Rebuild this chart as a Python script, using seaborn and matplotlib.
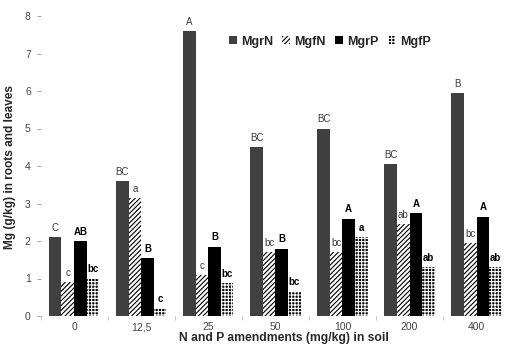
import matplotlib
matplotlib.use("Agg")
import matplotlib.pyplot as plt
import seaborn as sns
import pandas as pd

# Mg content (g/kg) in roots and leaves under N and P amendments
doses = ["0", "12,5", "25", "50", "100", "200", "400"]
series = ["MgrN", "MgfN", "MgrP", "MgfP"]

mgr_n = [2.1, 3.6, 7.6, 4.5, 5.0, 4.05, 5.95]
mgf_n = [0.9, 3.15, 1.1, 1.7, 1.7, 2.45, 1.95]
mgr_p = [2.0, 1.55, 1.85, 1.8, 2.6, 2.75, 2.65]
mgf_p = [1.0, 0.22, 0.88, 0.65, 2.1, 1.3, 1.3]

# Significance letters above each bar
let_mgr_n = ["C", "BC", "A", "BC", "BC", "BC", "B"]
let_mgf_n = ["c", "a", "c", "bc", "bc", "ab", "bc"]
let_mgr_p = ["AB", "B", "B", "B", "A", "A", "A"]
let_mgf_p = ["bc", "c", "bc", "bc", "a", "ab", "ab"]

values = {"MgrN": mgr_n, "MgfN": mgf_n, "MgrP": mgr_p, "MgfP": mgf_p}
letters = {"MgrN": let_mgr_n, "MgfN": let_mgf_n, "MgrP": let_mgr_p, "MgfP": let_mgf_p}

df = pd.DataFrame(
    [(d, s, values[s][i]) for s in series for i, d in enumerate(doses)],
    columns=["dose", "series", "mg"],
)

sns.set_theme(style="white")
plt.rcParams["font.family"] = ["Liberation Sans", "DejaVu Sans"]
plt.rcParams["hatch.linewidth"] = 0.8

fig = plt.figure(figsize=(5.05, 3.47), dpi=100)
ax = fig.add_axes([40.5 / 505, 31 / 347, 465 / 505, 300 / 347])

sns.barplot(
    data=df, x="dose", y="mg", hue="series",
    order=doses, hue_order=series,
    width=0.75, gap=0, dodge=True, legend=False,
    palette=["#404040", "white", "black", "black"],
    ax=ax,
)

# Fill styles per series
styles = {
    "MgrN": dict(face="#404040", edge="#404040", hatch=None),
    "MgfN": dict(face="white", edge="black", hatch="///////"),
    "MgrP": dict(face="black", edge="black", hatch=None),
    "MgfP": dict(face="black", edge="white", hatch="+++++"),
}
for cont, s in zip(ax.containers, series):
    st = styles[s]
    for p in cont.patches:
        p.set_facecolor(st["face"])
        p.set_edgecolor(st["edge"])
        p.set_linewidth(0)
        if st["hatch"]:
            p.set_hatch(st["hatch"])

# Letters above bars
for cont, s in zip(ax.containers, series):
    bold = s in ("MgrP", "MgfP")
    ax.bar_label(
        cont, labels=letters[s], padding=3,
        fontsize=7, color="black" if bold else "#3a3a3a",
        fontweight="bold" if bold else "normal",
    )

ax.set_ylim(0, 8)
ax.set_xlim(-0.5, 6.43)
ax.set_yticks(range(0, 9))
ax.set_xticks(range(len(doses)))
ax.set_xticklabels(doses)
ax.set_xticks([i + 0.5 for i in range(-1, 6)], minor=True)
ax.tick_params(axis="x", which="major", length=0, pad=4.5, labelsize=7.5, labelcolor="#444444")
ax.tick_params(axis="x", which="minor", length=3, width=0.6, color="#bbbbbb", bottom=True, direction="out")
ax.tick_params(axis="y", length=3, width=0.6, color="#999999", left=True, direction="out",
               pad=4, labelsize=7.5, labelcolor="#444444")
for sp in ax.spines.values():
    sp.set_visible(False)
ax.set_xlabel("")
ax.set_ylabel("")

fig.text(10 / 505, 0.519, "Mg (g/kg) in roots and leaves", rotation=90,
         ha="center", va="center", fontsize=8.6, fontweight="bold")
fig.text(284 / 505, 9 / 347, "N and P amendments (mg/kg) in soil",
         ha="center", va="center", fontsize=8.7, fontweight="bold")

ax.legend(
    ax.containers, series, ncol=4, frameon=False,
    loc="center", bbox_to_anchor=(0.622, 0.915),
    prop=dict(weight="bold", size=9),
    handlelength=0.6, handleheight=0.6, handletextpad=0.35,
    columnspacing=0.75, borderaxespad=0,
)

fig.savefig("out.png", dpi=100)
